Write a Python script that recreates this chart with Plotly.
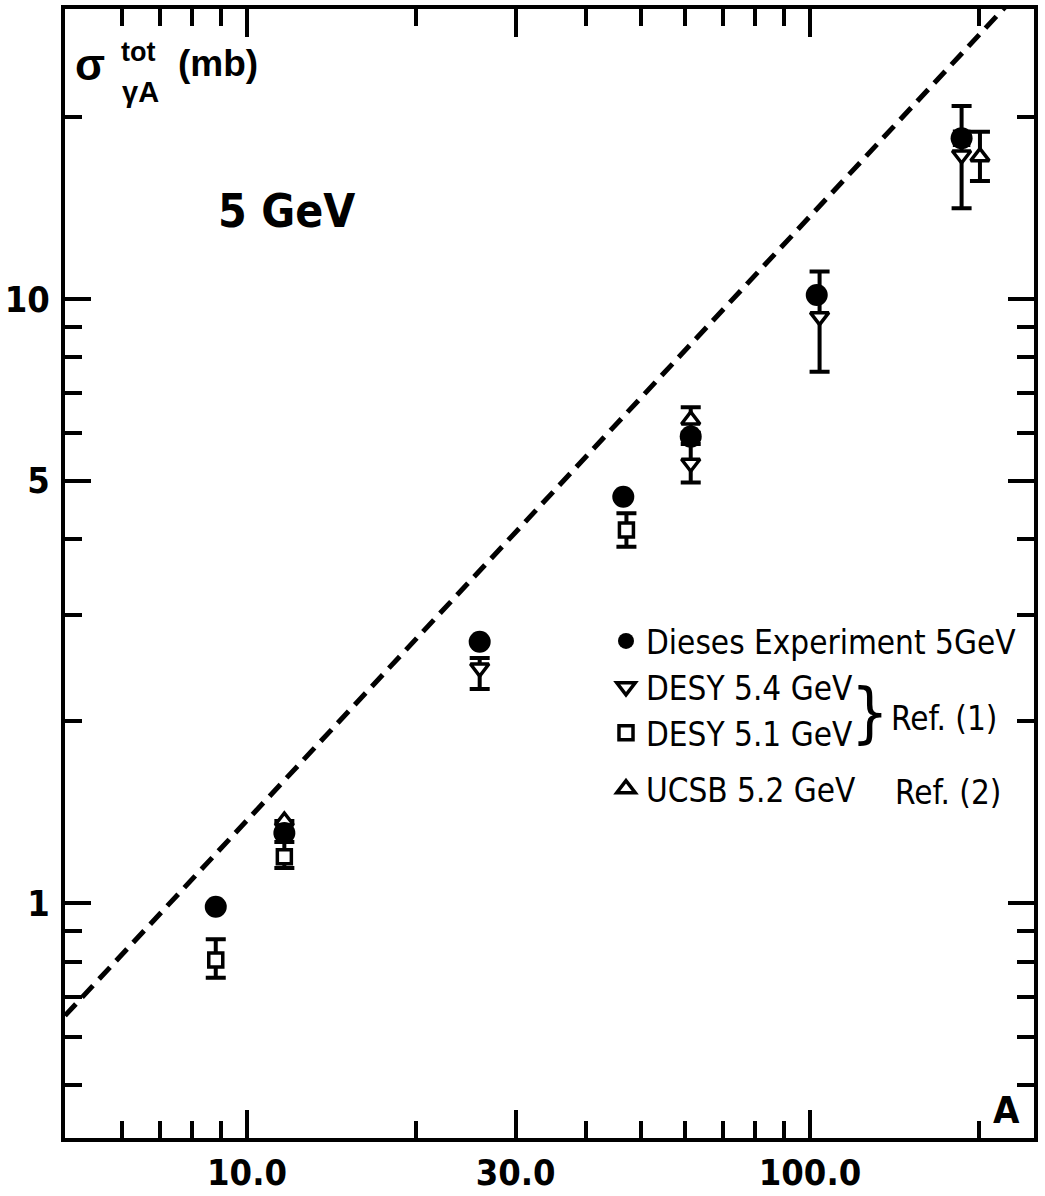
import plotly.graph_objects as go

# ---------------- data ----------------
line_A = [4.75, 250.0]
line_sigma = [0.651, 34.25]

exp_A = [8.80, 11.65, 25.9, 46.6, 61.4, 102.8, 185.9]
exp_sigma = [0.986, 1.306, 2.708, 4.706, 5.917, 10.15, 18.45]

desy54_A = [25.9, 61.4, 104.0, 185.9]
desy54_sigma = [2.449, 5.346, 9.348, 17.31]
desy54_err_plus = [0.095, 0.408, 1.75, 3.56]
desy54_err_minus = [0.188, 0.380, 1.77, 3.18]

desy51_A = [8.80, 11.65, 47.2, 185.9]
desy51_sigma = [0.805, 1.193, 4.145, 18.45]
desy51_err_plus = [0.066, 0.069, 0.273, 0.0]
desy51_err_minus = [0.053, 0.050, 0.255, 0.0]

ucsb_A = [11.65, 61.4, 200.4]
ucsb_sigma = [1.367, 6.305, 17.20]
ucsb_err_plus = [0.0, 0.312, 1.72]
ucsb_err_minus = [0.0, 0.30, 1.52]

x_tickvals = [10, 30, 100]
x_ticktext = ["10.0", "30.0", "100.0"]
x_minor = [6, 7, 8, 9, 20, 40, 50, 60, 70, 80, 90, 200]
y_tickvals = [1, 5, 10]
y_ticktext = ["1", "5", "10"]
y_minor = [0.5, 0.6, 0.7, 0.8, 0.9, 2, 3, 4, 6, 7, 8, 9, 20]

legend_names = ["Dieses Experiment 5GeV", "DESY 5.4 GeV",
                "DESY 5.1 GeV", "UCSB 5.2 GeV"]

# ---------------- layout constants ----------------
W, H = 1045, 1196
L, R, T, B = 65, 1034, 9, 1138
NARROW = "DejaVu Sans Condensed, Liberation Sans Narrow, Liberation Sans, sans-serif"
SANS = "Liberation Sans, Arial, sans-serif"


def px(x):
    return (x - L) / (R - L)


def py(y):
    return (B - y) / (B - T)


def err(plus, minus):
    return dict(type="data", symmetric=False, array=plus, arrayminus=minus,
                color="black", thickness=4, width=10)


fig = go.Figure()

fig.add_trace(go.Scatter(x=line_A, y=line_sigma, mode="lines", showlegend=False,
                         line=dict(color="black", width=5, dash="16px,9px"),
                         hoverinfo="skip"))

fig.add_trace(go.Scatter(x=desy51_A, y=desy51_sigma, mode="markers", name=legend_names[2],
                         legendrank=3, legendgroup="g1",
                         marker=dict(symbol="square", size=14, color="white",
                                     line=dict(color="black", width=3.5)),
                         error_y=err(desy51_err_plus, desy51_err_minus)))

fig.add_trace(go.Scatter(x=desy54_A, y=desy54_sigma, mode="markers", name=legend_names[1],
                         legendrank=2, legendgroup="g1",
                         marker=dict(symbol="triangle-down", size=16, color="white",
                                     line=dict(color="black", width=3.5)),
                         error_y=err(desy54_err_plus, desy54_err_minus)))

fig.add_trace(go.Scatter(x=ucsb_A, y=ucsb_sigma, mode="markers", name=legend_names[3],
                         legendrank=4, legendgroup="g2",
                         marker=dict(symbol="triangle-up", size=16, color="white",
                                     line=dict(color="black", width=3.5)),
                         error_y=err(ucsb_err_plus, ucsb_err_minus)))

fig.add_trace(go.Scatter(x=exp_A, y=exp_sigma, mode="markers", name=legend_names[0],
                         legendrank=1, legendgroup="g1",
                         marker=dict(symbol="circle", size=22, color="black",
                                     line=dict(width=0))))

axis_common = dict(
    type="log", showgrid=False, zeroline=False, automargin=False,
    showline=True, linecolor="black", linewidth=4, mirror="ticks",
    ticks="inside", tickcolor="black", tickwidth=3.5,
    tickfont=dict(family=NARROW, size=36, color="black", weight="bold"),
    tickmode="array",
)

fig.update_xaxes(
    **axis_common,
    range=[0.6767, 2.3979],
    tickvals=x_tickvals, ticktext=x_ticktext, ticklen=28,
    ticklabelstandoff=0,
    minor=dict(tickmode="array", tickvals=x_minor, ticks="inside",
               ticklen=17, tickwidth=3.5, tickcolor="black", showgrid=False),
)
fig.update_yaxes(
    **axis_common,
    range=[-0.389, 1.480],
    tickvals=y_tickvals, ticktext=y_ticktext, ticklen=26,
    ticklabelstandoff=4,
    minor=dict(tickmode="array", tickvals=y_minor, ticks="inside",
               ticklen=17, tickwidth=3.5, tickcolor="black", showgrid=False),
)

annotations = [
    dict(text="σ", x=px(90), y=py(64), font=dict(family=SANS, size=44, weight="bold")),
    dict(text="tot", x=px(137.5), y=py(52), font=dict(family=SANS, size=27, weight="bold")),
    dict(text="γA", x=px(140), y=py(92), font=dict(family=SANS, size=29, weight="bold")),
    dict(text="(mb)", x=px(218), y=py(63.5), font=dict(family=SANS, size=37, weight="bold")),
    dict(text="5 GeV", x=px(286), y=py(211), font=dict(family=NARROW, size=46, weight="bold")),
    dict(text="A", x=px(1006), y=py(1110), font=dict(family=NARROW, size=38, weight="bold")),
    dict(text="}", x=px(870), y=py(712), font=dict(family=NARROW, size=66)),
    dict(text="Ref. (1)", x=px(944), y=py(718), font=dict(family=NARROW, size=33)),
    dict(text="Ref. (2)", x=px(948), y=py(792), font=dict(family=NARROW, size=33)),
]
for a in annotations:
    a.update(xref="paper", yref="paper", showarrow=False,
             xanchor="center", yanchor="middle")
    a["font"]["color"] = "black"

fig.update_layout(
    width=W, height=H,
    margin=dict(l=L, r=W - R, t=T, b=H - B, autoexpand=False),
    paper_bgcolor="white", plot_bgcolor="white",
    font=dict(family=NARROW, color="black"),
    showlegend=True,
    legend=dict(x=px(606), y=py(613), xanchor="left", yanchor="top",
                font=dict(family=NARROW, size=33, color="black"),
                bgcolor="rgba(0,0,0,0)", borderwidth=0, itemsizing="trace",
                traceorder="grouped", tracegroupgap=10),
    annotations=annotations,
)

fig.write_html(
    "out.html",
    config={"displayModeBar": False},
    post_script="document.body.style.margin='0';document.body.style.overflow='hidden';",
)
